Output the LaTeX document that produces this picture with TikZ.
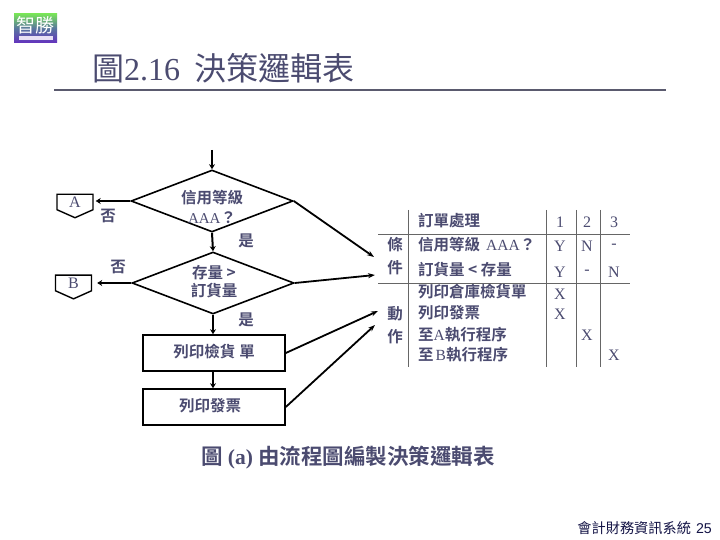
\documentclass[tikz,border=0pt]{standalone}
\usepackage{fontspec}
\setmainfont{Liberation Serif}
\newfontfamily\cjk{Noto Sans CJK TC}[BoldFont={Noto Sans CJK TC Bold}]
\usetikzlibrary{calc,arrows.meta,positioning,shapes.geometric,shapes.symbols}
\definecolor{slatetext}{RGB}{75,75,112}
\definecolor{sliderule}{RGB}{90,90,110}
\definecolor{footnavy}{RGB}{20,20,70}
\definecolor{logogreen}{RGB}{120,225,90}
\definecolor{logopurple}{RGB}{100,50,190}
\tikzset{
  flowlabel/.style={font=\cjk\bfseries\fontsize{15.5}{17}\selectfont, text=slatetext, inner sep=0pt, align=center},
  tablabel/.style ={flowlabel, anchor=west},
  tabcell/.style  ={font=\fontsize{16}{17}\selectfont, text=slatetext, inner sep=0pt},
  decision/.style ={diamond, draw=black, line width=1.6pt, inner sep=0pt, aspect=2.6,
                    minimum width=162pt, minimum height=62pt},
  procbox/.style  ={rectangle, draw=black, line width=1.6pt, inner sep=0pt,
                    minimum width=142pt, minimum height=36pt},
  offpage/.style  ={signal, signal to=south, signal pointer angle=132, draw=black, line width=1.4pt,
                    inner sep=0pt, minimum width=36pt, minimum height=18pt, text=slatetext,
                    font=\fontsize{16}{17}\selectfont},
  flowarrow/.style={-{Stealth[length=5pt,width=6pt]}, line width=2pt, black},
  linkarrow/.style={-{Stealth[length=7pt,width=5pt]}, line width=1.8pt, black},
  tabrule/.style  ={line width=0.8pt, black!60},
}
\begin{document}
\begin{tikzpicture}[x=1pt,y=-1pt]
  \useasboundingbox (0,0) rectangle (720,540);
  % header
  \node[rectangle, minimum width=43pt, minimum height=29pt, inner sep=0pt, top color=logogreen,
        bottom color=logopurple, middle color=logopurple!45!logogreen!80!blue] (logo) at (35.5,28.5) {};
  \node[font=\cjk\fontsize{19}{19}\selectfont, text=white, inner sep=0pt] (logotext) at (35.5,25) {智勝};
  \node[rectangle, fill=white!85!logopurple, minimum width=34pt, minimum height=4pt, inner sep=0pt] (logobar) at (35.5,38) {};
  \node[anchor=west, inner sep=0pt, text=slatetext, font=\fontsize{32}{33}\selectfont] (title) at (92,68)
    {{\cjk 圖}2.16\hspace{14pt}{\cjk 決策邏輯表}};
  \coordinate (ruleL) at (54,90);
  \coordinate (ruleR) at (666,90);
  \draw[line width=1.8pt, sliderule] (ruleL) -- (ruleR);

  % flowchart
  \coordinate (start) at (212,150);
  \node[decision] (dCredit) at (212,201) {};
  \node[decision] (dStock) at (213,283) {};
  \node[procbox] (pSlip) at (214,353) {};
  \node[procbox] (pBill) at (214,407) {};
  \node[offpage] (gotoA) at (75,202) {A};
  \node[offpage] (gotoB) at (73.5,283) {B};
  \node[flowlabel] (tCredit) at (212,207) {信用等級\\[3pt]{\fontsize{15}{17}\mdseries\rmfamily AAA}？};
  \node[flowlabel] (tStock) at (214,282) {存量 >\\[1pt]訂貨量};
  \node[flowlabel] (tSlip) at (214,352) {列印檢貨\hspace{4pt}單};
  \node[flowlabel] (tBill) at (210,406) {列印發票};
  \node[flowlabel] (noA) at (108,216) {否};
  \node[flowlabel] (noB) at (118,267) {否};
  \node[flowlabel] (yesA) at (246,241) {是};
  \node[flowlabel] (yesB) at (246,320) {是};
  \draw[flowarrow] (start) -- (dCredit.north);
  \draw[flowarrow] (dCredit.south) -- (dStock.north);
  \draw[flowarrow] (dStock.south) -- (pSlip.north -| dStock.south);
  \draw[flowarrow] (pSlip.south -| dStock.south) -- (pBill.north -| dStock.south);
  \draw[flowarrow, shorten >=2pt] (dCredit.west) -- (dCredit.west -| gotoA.east);
  \draw[flowarrow, shorten >=5pt] (dStock.west) -- (dStock.west -| gotoB.east);

  % connectors to table
  \coordinate (toCondA) at (374,257);
  \coordinate (toCondB) at (375,275);
  \coordinate (toActA) at (378,311);
  \coordinate (toActB) at (375,325);
  \draw[linkarrow] (dCredit.east) -- (toCondA);
  \draw[linkarrow] (dStock.east) -- (toCondB);
  \draw[linkarrow] (pSlip.east) -- (toActA);
  \draw[linkarrow] (pBill.east) -- (toActB);

  % decision table
  \foreach \nm/\xx in {a/408,b/546,c/576,d/600} {
    \coordinate (top\nm) at (\xx,210);
    \coordinate (bot\nm) at (\xx,367);
    \draw[tabrule] (top\nm) -- (bot\nm);
  }
  \foreach \nm/\yy in {e/234,f/283} {
    \coordinate (lft\nm) at (378,\yy);
    \coordinate (rgt\nm) at (630,\yy);
    \draw[tabrule] (lft\nm) -- (rgt\nm);
  }
  \node[flowlabel] (sideA) at (395,245) {條};
  \node[flowlabel] (sideB) at (395,268) {件};
  \node[flowlabel] (sideC) at (395,314) {動};
  \node[flowlabel] (sideD) at (395,337) {作};
  \node[tablabel] (rowA) at (418,221) {訂單處理};
  \node[tablabel] (rowB) at (418,245) {信用等級\hspace{6pt}{\mdseries\rmfamily AAA}？};
  \node[tablabel] (rowC) at (418,270) {訂貨量 < 存量};
  \node[tablabel] (rowD) at (418,292) {列印倉庫檢貨單};
  \node[tablabel] (rowE) at (418,313) {列印發票};
  \node[tablabel] (rowF) at (418,335) {至{\mdseries\rmfamily A}執行程序};
  \node[tablabel] (rowG) at (418,355) {至{\hspace{2pt}\mdseries\rmfamily B}執行程序};
  \foreach \nm/\xx/\yy/\val in {h1/560/222/1,h2/587/222/2,h3/614/222/3,
      y1/560/246/Y,y2/587/246/N,y3/614/246/-,
      z1/560/272/Y,z2/587/272/-,z3/614/272/N,
      x1/560/294/X,x2/560/314/X,x3/587/335/X,x4/614/355/X} {
    \node[tabcell] (cell\nm) at (\xx,\yy) {\val};
  }

  % caption and footer
  \node[inner sep=0pt, text=slatetext, font=\fontsize{21.5}{23}\selectfont] (caption) at (348,458)
    {{\cjk\bfseries 圖} \textbf{(a)} {\cjk\bfseries 由流程圖編製決策邏輯表}};
  \node[anchor=east, inner sep=0pt, text=footnavy, font=\fontsize{14.2}{16}\selectfont] (footer) at (712,528)
    {{\cjk 會計財務資訊系統}\hspace{5pt}{\fontspec{Liberation Sans}25}};
\end{tikzpicture}
\end{document}
